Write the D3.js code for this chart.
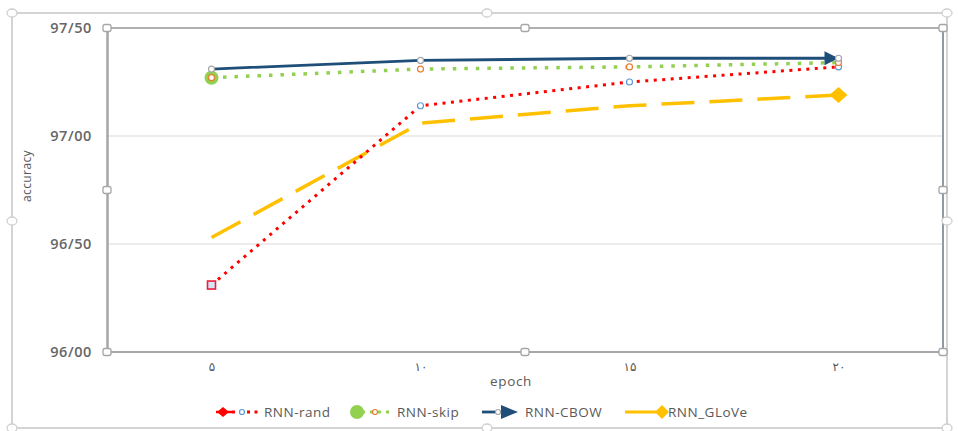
<!DOCTYPE html>
<html>
<head>
<meta charset="utf-8">
<script src="https://cdn.jsdelivr.net/npm/d3@7/dist/d3.min.js"></script>
<style>
  html, body { margin: 0; padding: 0; background: #fff; }
  svg { display: block; font-family: "Open Sans", "DejaVu Sans", sans-serif; }
</style>
</head>
<body>
<svg id="chart" width="958" height="431"></svg>
<script>
// Epochs (Persian digits) and accuracy per model
const epochs = ["۵", "۱۰", "۱۵", "۲۰"];
const rnnRand = [96.31, 97.14, 97.25, 97.32];
const rnnSkip = [97.27, 97.31, 97.32, 97.34];
const rnnCbow = [97.31, 97.35, 97.36, 97.36];
const rnnGlove = [96.53, 97.06, 97.14, 97.19];
const yTicks = [96.0, 96.5, 97.0, 97.5];
const seriesNames = ["RNN-rand", "RNN-skip", "RNN-CBOW", "RNN_GLoVe"];

const svg = d3.select("#chart");
const plot = { left: 107, right: 943, top: 28, bottom: 352 };

const x = d3.scalePoint().domain(epochs).range([plot.left, plot.right]).padding(0.5);
const y = d3.scaleLinear().domain([96, 97.5]).range([plot.bottom, plot.top]);
const fmt = v => d3.format(".2f")(v).replace(".", "/");

// Chart-area frame with selection handles
svg.append("rect").attr("x", 12).attr("y", 13).attr("width", 935).attr("height", 415)
  .attr("rx", 3).attr("fill", "none").attr("stroke", "#d4d4d4").attr("stroke-width", 2);

// Horizontal gridlines
svg.append("g").selectAll("line").data(yTicks.slice(1, 3)).join("line")
  .attr("x1", plot.left).attr("x2", plot.right)
  .attr("y1", d => y(d)).attr("y2", d => y(d))
  .attr("stroke", "#d9d9d9").attr("stroke-width", 1);

// Plot-area frame
svg.append("line").attr("x1", plot.left).attr("x2", plot.right).attr("y1", plot.top).attr("y2", plot.top)
  .attr("stroke", "#b0b0b0").attr("stroke-width", 2);
svg.append("line").attr("x1", plot.right).attr("x2", plot.right).attr("y1", plot.top).attr("y2", plot.bottom)
  .attr("stroke", "#8e9aa6").attr("stroke-width", 2);

// Y axis
const yAxis = svg.append("g").attr("transform", `translate(${plot.left},0)`)
  .call(d3.axisLeft(y).tickValues(yTicks).tickFormat(fmt).tickSize(0).tickPadding(15));
yAxis.select(".domain").attr("stroke", "#a6a6a6").attr("stroke-width", 2.5);
yAxis.selectAll("text").attr("fill", "#666").attr("font-size", 14.5).attr("font-weight", 600)
  .attr("letter-spacing", 0.6).attr("font-family", "Open Sans, sans-serif");

// X axis
const xAxis = svg.append("g").attr("transform", `translate(0,${plot.bottom})`)
  .call(d3.axisBottom(x).tickSize(0).tickPadding(10));
xAxis.select(".domain").attr("stroke", "#a6a6a6").attr("stroke-width", 2)
  .attr("d", `M${plot.left},0H${plot.right}`);
xAxis.selectAll("text").attr("fill", "#595959").attr("font-size", 12)
  .attr("font-family", "Noto Sans, DejaVu Sans, sans-serif");

// Axis titles
svg.append("text").attr("x", 511).attr("y", 386).attr("text-anchor", "middle")
  .attr("fill", "#595959").attr("font-size", 13.5).attr("letter-spacing", 0.7).text("epoch");
svg.append("text").attr("transform", "translate(31,176) rotate(-90)").attr("text-anchor", "middle")
  .attr("fill", "#595959").attr("font-size", 12).attr("letter-spacing", 0.4).text("accuracy");

// Selection handles on both frames
const squareHandles = [
  [plot.left, plot.top], [525, plot.top], [plot.right, plot.top],
  [plot.left, 190], [plot.right, 190],
  [plot.left, plot.bottom], [525, plot.bottom], [plot.right, plot.bottom]
];
svg.append("g").selectAll("rect").data(squareHandles).join("rect")
  .attr("x", d => d[0] - 4).attr("y", d => d[1] - 3.5).attr("width", 8).attr("height", 7).attr("rx", 2)
  .attr("fill", "#fff").attr("stroke", "#a6a6a6").attr("stroke-width", 1.3);
const roundHandles = [[12, 13], [487, 13], [947, 13], [12, 221], [947, 221], [12, 428], [487, 428], [947, 428]];
svg.append("g").selectAll("ellipse").data(roundHandles).join("ellipse")
  .attr("cx", d => d[0]).attr("cy", d => d[1]).attr("rx", 5).attr("ry", 4)
  .attr("fill", "#fff").attr("stroke", "#cfcfcf").attr("stroke-width", 1.3);

const line = d3.line().x((d, i) => x(epochs[i])).y(d => y(d));

// Arrow marker for the CBOW line
const defs = svg.append("defs");
defs.append("marker").attr("id", "arrow").attr("viewBox", "0 0 10 10")
  .attr("refX", 10).attr("refY", 5).attr("markerWidth", 6.5).attr("markerHeight", 5)
  .attr("markerUnits", "strokeWidth").attr("orient", "auto")
  .append("path").attr("d", "M0,0L10,5L0,10Z").attr("fill", "#1f4e79");

// RNN_GLoVe: long dashes with a diamond end
svg.append("path").datum(rnnGlove).attr("d", line).attr("fill", "none")
  .attr("stroke", "#ffc000").attr("stroke-width", 3.5).attr("stroke-dasharray", "33 15");
svg.append("path")
  .attr("transform", `translate(${x(epochs[3])},${y(rnnGlove[3])})`)
  .attr("d", "M-9,0L0,-8L9,0L0,8Z").attr("fill", "#ffc000");

// RNN-rand: red dots
svg.append("path").datum(rnnRand).attr("d", line).attr("fill", "none")
  .attr("stroke", "#ff0000").attr("stroke-width", 3).attr("stroke-dasharray", "3 5.5");
svg.append("rect").attr("x", x(epochs[0]) - 4).attr("y", y(rnnRand[0]) - 4)
  .attr("width", 8).attr("height", 8).attr("fill", "#d6e6f6").attr("stroke", "#ee1c3a").attr("stroke-width", 1.6);
svg.append("g").selectAll("circle").data(rnnRand.slice(1)).join("circle")
  .attr("cx", (d, i) => x(epochs[i + 1])).attr("cy", d => y(d)).attr("r", 3)
  .attr("fill", "#fff").attr("stroke", "#5b9bd5").attr("stroke-width", 1.2);

// RNN-skip: green dots
svg.append("path").datum(rnnSkip).attr("d", line).attr("fill", "none")
  .attr("stroke", "#92d050").attr("stroke-width", 3.5).attr("stroke-dasharray", "3.5 8");
svg.append("circle").attr("cx", x(epochs[0])).attr("cy", y(rnnSkip[0])).attr("r", 7).attr("fill", "#92d050");
svg.append("g").selectAll("circle").data(rnnSkip).join("circle")
  .attr("cx", (d, i) => x(epochs[i])).attr("cy", d => y(d)).attr("r", 3)
  .attr("fill", "#fff").attr("stroke", "#ed7d31").attr("stroke-width", 1.2);

// RNN-CBOW: solid navy with arrow end
svg.append("path").datum(rnnCbow).attr("d", line).attr("fill", "none")
  .attr("stroke", "#1f4e79").attr("stroke-width", 2.8).attr("marker-end", "url(#arrow)");
svg.append("g").selectAll("circle").data(rnnCbow).join("circle")
  .attr("cx", (d, i) => x(epochs[i])).attr("cy", d => y(d)).attr("r", 3)
  .attr("fill", "#fff").attr("stroke", "#a6a6a6").attr("stroke-width", 1.2);

// Legend
const ly = 412;
const legend = svg.append("g");
// rand
legend.append("line").attr("x1", 232).attr("x2", 261).attr("y1", ly).attr("y2", ly)
  .attr("stroke", "#ff0000").attr("stroke-width", 3).attr("stroke-dasharray", "3 4.5");
legend.append("line").attr("x1", 216).attr("x2", 232).attr("y1", ly).attr("y2", ly)
  .attr("stroke", "#ff0000").attr("stroke-width", 2.5);
legend.append("path").attr("transform", `translate(223,${ly})`).attr("d", "M-6,0L0,-5L6,0L0,5Z").attr("fill", "#ff0000");
legend.append("circle").attr("cx", 242).attr("cy", ly).attr("r", 2.5).attr("fill", "#fff")
  .attr("stroke", "#5b9bd5").attr("stroke-width", 1.2);
// skip
legend.append("line").attr("x1", 362).attr("x2", 393).attr("y1", ly).attr("y2", ly)
  .attr("stroke", "#92d050").attr("stroke-width", 3).attr("stroke-dasharray", "3 5");
legend.append("circle").attr("cx", 357).attr("cy", ly).attr("r", 7).attr("fill", "#92d050");
legend.append("circle").attr("cx", 375).attr("cy", ly).attr("r", 2.5).attr("fill", "#fff")
  .attr("stroke", "#ed7d31").attr("stroke-width", 1.2);
// cbow
legend.append("line").attr("x1", 482).attr("x2", 506).attr("y1", ly).attr("y2", ly)
  .attr("stroke", "#1f4e79").attr("stroke-width", 2.8);
legend.append("path").attr("d", `M501,${ly - 7}L518,${ly}L501,${ly + 7}Z`).attr("fill", "#1f4e79");
legend.append("circle").attr("cx", 498).attr("cy", ly).attr("r", 2.5).attr("fill", "#fff")
  .attr("stroke", "#a6a6a6").attr("stroke-width", 1.2);
// glove
legend.append("line").attr("x1", 625).attr("x2", 660).attr("y1", ly).attr("y2", ly)
  .attr("stroke", "#ffc000").attr("stroke-width", 3);
legend.append("path").attr("transform", `translate(662,${ly})`).attr("d", "M-7,0L0,-7L7,0L0,7Z").attr("fill", "#ffc000");

const labelX = [264, 397, 525, 668];
legend.selectAll("text.lbl").data(seriesNames).join("text").attr("class", "lbl")
  .attr("x", (d, i) => labelX[i]).attr("y", ly + 5)
  .attr("fill", "#595959").attr("font-size", 13.5).attr("letter-spacing", 0.5).text(d => d);
</script>
</body>
</html>
